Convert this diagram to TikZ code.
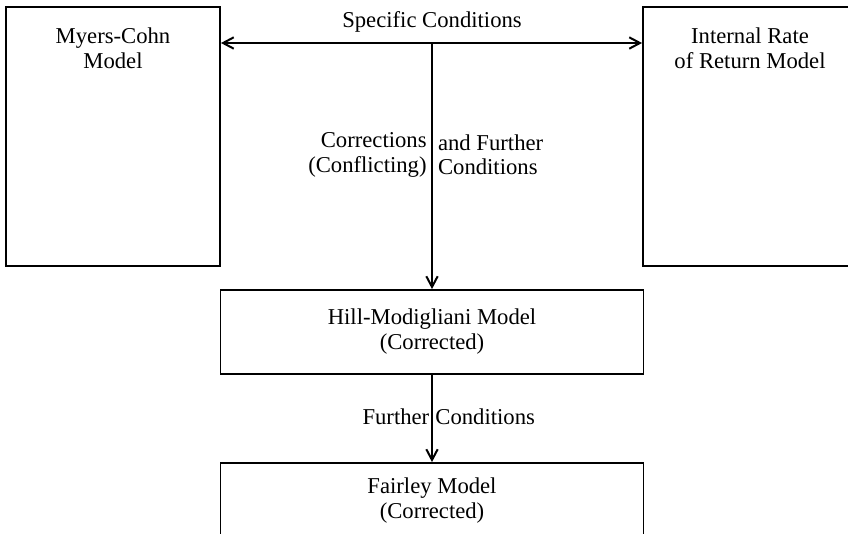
\documentclass[tikz,border=0pt]{standalone}
\usepackage{fontspec}
\setmainfont{Liberation Serif}
\usetikzlibrary{arrows.meta,fit}

\tikzset{
  modelbox/.style={draw, line width=1.4pt, inner sep=0pt},
  labeltext/.style={font=\fontsize{17}{18.4}\selectfont},
  boxtext/.style={labeltext, anchor=north, inner sep=0pt, align=center},
  flow/.style={line width=1.1pt},
  barb/.tip={Straight Barb[length=8pt,width=8.5pt,line width=1.5pt]}
}

\begin{document}
\begin{tikzpicture}[x=0.75pt,y=0.75pt,yscale=-1,xscale=1]
\useasboundingbox (0,0) rectangle (848,533);
\clip (0,0) rectangle (848,533);

% Boxes
\node (mc) [modelbox, fit={(6,7) (220,266)}] {};
\node (irr) [modelbox, fit={(643,7) (857,266)}] {};
\node (hm) [modelbox, fit={(220.5,290) (643.5,374)}] {};
\node (fm) [modelbox, fit={(220.5,463) (643.5,560)}] {};

% Text Node
\node (mctext) at (113,27.5) [boxtext] {Myers-Cohn\\Model};
% Text Node
\node (irrtext) at (750,28) [boxtext] {Internal Rate\\of Return Model};
% Text Node
\node (hmtext) at (432,308.5) [boxtext] {Hill-Modigliani Model\\(Corrected)};
% Text Node
\node (fmtext) at (432,477.5) [boxtext] {Fairley Model\\(Corrected)};
% Text Node
\node (spec) at (432,27) [labeltext, anchor=base, inner sep=0pt] {Specific Conditions};

\coordinate (top) at (432,43);

% Arrows
\draw [flow, barb-barb] (mc.east |- top) -- (irr.west |- top);
\draw [flow, -barb] (top) --
  node (corr) [pos=0.455, labeltext, anchor=east, inner sep=3.5pt, align=right] {Corrections\\(Conflicting)}
  node (furth) [pos=0.455, labeltext, anchor=west, inner sep=4pt, align=left] {and Further\\Conditions}
  (top |- hm.north);
\draw [flow, -barb] (hm.south) --
  node (fcl) [pos=0.483, labeltext, anchor=east, inner sep=1.5pt] {Further}
  node (fcr) [pos=0.483, labeltext, anchor=west, inner sep=2pt] {Conditions}
  (fm.north);

\end{tikzpicture}
\end{document}
